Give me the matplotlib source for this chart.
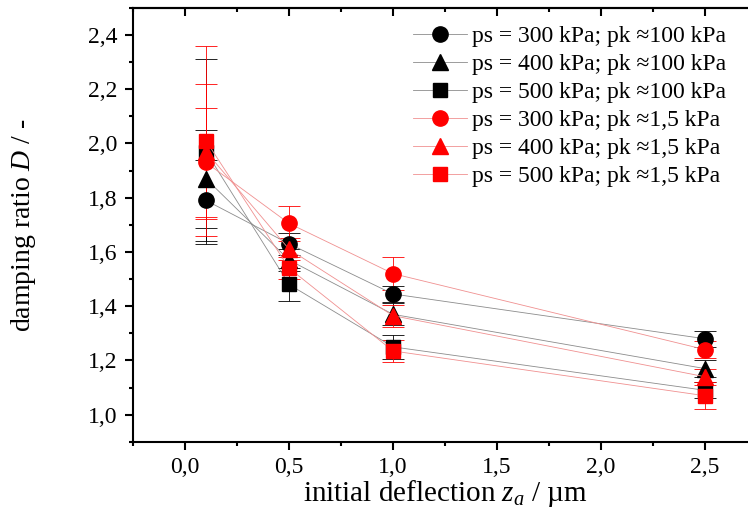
import numpy as np
import matplotlib
matplotlib.use("Agg")
import matplotlib.pyplot as plt
from matplotlib.ticker import FuncFormatter, MultipleLocator

plt.rcParams['font.family'] = ['Liberation Serif', 'DejaVu Serif']
plt.rcParams['mathtext.fontset'] = 'custom'
plt.rcParams['mathtext.rm'] = 'Liberation Serif'
plt.rcParams['mathtext.it'] = 'Liberation Serif:italic'

z = [0.1, 0.5, 1.0, 2.5]

labels = ['ps = 300 kPa; pk \u2248100 kPa', 'ps = 400 kPa; pk \u2248100 kPa',
          'ps = 500 kPa; pk \u2248100 kPa', 'ps = 300 kPa; pk \u22481,5 kPa',
          'ps = 400 kPa; pk \u22481,5 kPa', 'ps = 500 kPa; pk \u22481,5 kPa']

d_300_100 = [1.79, 1.63, 1.445, 1.28]
d_400_100 = [1.87, 1.57, 1.37, 1.17]
d_500_100 = [1.97, 1.48, 1.25, 1.09]
d_300_15 = [1.93, 1.705, 1.52, 1.24]
d_400_15 = [1.97, 1.61, 1.365, 1.14]
d_500_15 = [2.01, 1.54, 1.235, 1.07]

e_300_100 = [0.15, 0.04, 0.03, 0.03]
e_400_100 = [0.18, 0.04, 0.04, 0.03]
e_500_100 = [0.34, 0.06, 0.045, 0.03]
e_300_15 = [0.20, 0.065, 0.06, 0.03]
e_400_15 = [0.25, 0.04, 0.04, 0.03]
e_500_15 = [0.35, 0.04, 0.04, 0.05]

series = [
    (d_300_100, e_300_100, 'black', 'o', 11),
    (d_400_100, e_400_100, 'black', '^', 11),
    (d_500_100, e_500_100, 'black', 's', 9.5),
    (d_300_15, e_300_15, 'red', 'o', 11),
    (d_400_15, e_400_15, 'red', '^', 11),
    (d_500_15, e_500_15, 'red', 's', 9.5),
]

fig = plt.figure(figsize=(7.48, 5.18), dpi=100)
ax = fig.add_axes([0.178, 0.147, 0.834, 0.838])

for (d, e, c, m, ms), lab in zip(series, labels):
    line_c = '#8c8c8c' if c == 'black' else '#f09090'
    ax.errorbar(z, d, yerr=e, fmt='none', ecolor=c, elinewidth=0.6,
                capsize=8, capthick=0.6, zorder=2)
    ax.plot(z, d, color=line_c, lw=0.6, marker=m, ms=ms, mfc=c, mec=c,
            label=lab, zorder=3)

ax.set_xlim(-0.25, 2.75)
ax.set_ylim(0.9, 2.5)
ax.xaxis.set_major_locator(MultipleLocator(0.5))
ax.xaxis.set_minor_locator(MultipleLocator(0.25))
ax.yaxis.set_major_locator(MultipleLocator(0.2))
ax.yaxis.set_minor_locator(MultipleLocator(0.1))
fmt = FuncFormatter(lambda v, p: f'{v:.1f}'.replace('.', ','))
ax.xaxis.set_major_formatter(fmt)
ax.yaxis.set_major_formatter(fmt)

ax.tick_params(which='both', direction='out', width=1.5, labelsize=17,
               top=False, right=False, pad=5)
ax.tick_params(which='major', length=6)
ax.tick_params(which='minor', length=3)
sec_x = ax.secondary_xaxis('top')
sec_x.xaxis.set_major_locator(MultipleLocator(0.5))
sec_x.xaxis.set_minor_locator(MultipleLocator(0.25))
sec_x.tick_params(which='both', direction='in', width=1.5, labeltop=False)
sec_x.tick_params(which='major', length=6)
sec_x.tick_params(which='minor', length=3)
sec_y = ax.secondary_yaxis('right')
sec_y.yaxis.set_major_locator(MultipleLocator(0.2))
sec_y.yaxis.set_minor_locator(MultipleLocator(0.1))
sec_y.tick_params(which='both', direction='in', width=1.5, labelright=False)
sec_y.tick_params(which='major', length=6)
sec_y.tick_params(which='minor', length=3)
for s in ax.spines.values():
    s.set_linewidth(1.5)
sec_x.spines['top'].set_linewidth(1.5)
sec_y.spines['right'].set_linewidth(1.5)

ax.set_xlabel(r'initial deflection $z_a$ / µm', fontsize=21, labelpad=0)
ax.set_ylabel(r'damping ratio $D$ / -', fontsize=20, labelpad=36)

fig.legend(loc='upper left', bbox_to_anchor=(0.552, 0.950),
           bbox_transform=fig.transFigure, frameon=False,
           fontsize=17, handlelength=2.3, handletextpad=0.2, labelspacing=0.27,
           borderaxespad=0, borderpad=0)

fig.savefig('out.png', dpi=100)
